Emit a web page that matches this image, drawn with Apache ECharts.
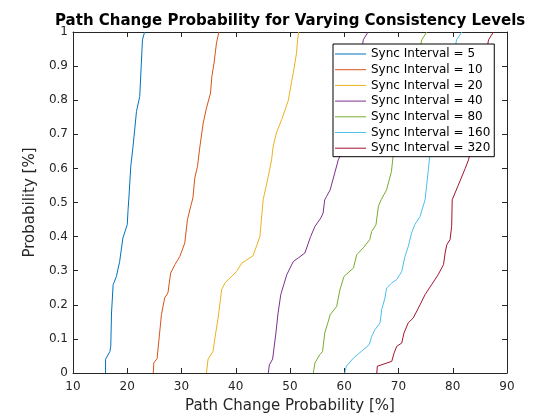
<!DOCTYPE html>
<html>
<head>
<meta charset="utf-8">
<script src="https://cdn.jsdelivr.net/npm/echarts@6/dist/echarts.min.js"></script>
<style>
  html, body { margin: 0; padding: 0; background: #fff; }
  #chart { width: 560px; height: 420px; }
</style>
</head>
<body>
<div id="chart"></div>
<script>
// CDF points [path change %, probability]
const interval5 = [[16.0,0],[16.0,0.04],[16.8,0.063],[16.96,0.078],[17.1,0.176],[17.4,0.259],[18.0,0.283],[18.6,0.327],[19.2,0.396],[20.0,0.435],[20.15,0.479],[20.3,0.513],[20.65,0.606],[21.07,0.665],[21.7,0.767],[22.3,0.811],[22.6,0.909],[22.8,0.977],[23.2,1]];
const interval10 = [[24.8,0],[24.9,0.03],[25.5,0.042],[26.3,0.171],[26.9,0.22],[27.5,0.235],[28.0,0.293],[28.8,0.318],[29.7,0.342],[30.6,0.381],[31.1,0.45],[31.7,0.489],[32.1,0.513],[32.45,0.572],[32.95,0.606],[33.4,0.665],[34.0,0.733],[34.6,0.777],[35.35,0.821],[35.6,0.87],[36.0,0.909],[36.45,0.968],[36.9,1]];
const interval20 = [[34.6,0],[34.9,0.041],[35.8,0.063],[36.3,0.117],[36.75,0.161],[37.4,0.244],[38.0,0.264],[40.15,0.298],[41.1,0.322],[43.2,0.344],[44.45,0.40],[45.05,0.508],[46.0,0.577],[46.6,0.625],[46.9,0.665],[47.5,0.704],[48.45,0.743],[49.1,0.772],[49.7,0.80],[50.3,0.855],[50.7,0.889],[51.2,0.938],[51.4,0.977],[51.6,1]];
const interval40 = [[46.0,0],[46.2,0.024],[46.8,0.041],[47.4,0.117],[47.8,0.176],[48.3,0.23],[49.4,0.288],[50.6,0.327],[51.5,0.337],[52.75,0.352],[53.8,0.40],[54.6,0.43],[55.7,0.455],[56.1,0.469],[56.4,0.508],[56.75,0.518],[57.4,0.537],[58.9,0.625],[59.8,0.655],[60.6,0.7],[61.3,0.75],[61.9,0.8],[62.4,0.85],[62.9,0.9],[63.3,0.95],[63.5,0.977],[64.4,1]];
const interval80 = [[54.3,0],[54.6,0.03],[55.5,0.054],[56.0,0.063],[56.4,0.117],[57.05,0.151],[57.4,0.171],[58.6,0.195],[59.2,0.244],[59.95,0.283],[61.7,0.308],[62.3,0.347],[63.5,0.367],[64.7,0.391],[65.05,0.415],[65.85,0.435],[66.3,0.489],[66.8,0.508],[67.8,0.537],[68.7,0.591],[69.0,0.635],[70.3,0.7],[71.2,0.75],[72.0,0.8],[72.7,0.85],[73.3,0.9],[73.9,0.95],[74.3,0.977],[75.2,1]];
const interval160 = [[60.1,0],[60.4,0.02],[61.7,0.044],[63.5,0.068],[64.6,0.083],[65.05,0.107],[65.66,0.127],[66.6,0.147],[66.9,0.186],[67.5,0.22],[67.8,0.249],[68.75,0.264],[69.67,0.274],[70.6,0.298],[71.2,0.342],[71.8,0.371],[72.4,0.41],[73.0,0.435],[73.97,0.459],[74.9,0.508],[75.5,0.596],[75.8,0.645],[77.0,0.7],[78.0,0.75],[78.8,0.8],[79.5,0.85],[80.0,0.9],[80.4,0.95],[80.7,0.977],[81.7,1]];
const interval320 = [[66.0,0],[66.1,0.02],[68.75,0.034],[69.2,0.059],[69.67,0.078],[70.6,0.088],[71.0,0.117],[71.8,0.147],[72.7,0.161],[73.2,0.176],[73.97,0.20],[74.9,0.23],[76.1,0.259],[77.3,0.288],[78.3,0.318],[78.6,0.352],[78.9,0.376],[79.5,0.391],[79.8,0.43],[79.9,0.508],[81.0,0.55],[82.3,0.6],[82.9,0.625],[83.2,0.645],[84.0,0.7],[84.7,0.75],[85.2,0.8],[85.6,0.85],[86.0,0.9],[86.3,0.95],[86.6,0.977],[87.5,1]];

const seriesNames = ["Sync Interval = 5", "Sync Interval = 10", "Sync Interval = 20", "Sync Interval = 40",
  "Sync Interval = 80", "Sync Interval = 160", "Sync Interval = 320"];
const seriesData = [interval5, interval10, interval20, interval40, interval80, interval160, interval320];
const colors = ["#0072BD", "#D95319", "#EDB120", "#7E2F8E", "#77AC30", "#4DBEEE", "#A2142F"];

const font = "DejaVu Sans";
const axisColor = "#262626";

const chart = echarts.init(document.getElementById("chart"));

// MATLAB style box: ticks inward on all four sides
const boxAxis = (extra) => Object.assign({
  type: "value",
  axisLine: { show: true, onZero: false, lineStyle: { color: axisColor, width: 1 } },
  axisTick: { show: true, inside: true, length: 5, lineStyle: { color: axisColor } },
  splitLine: { show: false },
}, extra);

chart.setOption({
  animation: false,
  color: colors,
  title: {
    text: "Path Change Probability for Varying Consistency Levels",
    left: 50,
    top: 9,
    textStyle: { fontFamily: font, fontSize: 15, fontWeight: "bold", color: "#000" },
  },
  grid: { left: 73, right: 53, top: 32, bottom: 47 },
  legend: {
    orient: "vertical",
    left: 333,
    top: 44,
    icon: "rect",
    itemWidth: 31,
    itemHeight: 1,
    itemGap: 0.7,
    padding: [2.5, 4, 1, 2],
    backgroundColor: "#fff",
    borderColor: "#000",
    borderWidth: 1,
    textStyle: { fontFamily: font, fontSize: 12, color: "#000", lineHeight: 15 },
    data: seriesNames,
  },
  xAxis: [
    boxAxis({
      min: 10, max: 90, interval: 10,
      name: "Path Change Probability [%]",
      nameLocation: "middle",
      nameGap: 26,
      nameTextStyle: { fontFamily: font, fontSize: 15, color: axisColor },
      axisLabel: { fontFamily: font, fontSize: 12, color: axisColor, margin: 8 },
    }),
    boxAxis({ min: 10, max: 90, interval: 10, position: "top", axisLabel: { show: false } }),
  ],
  yAxis: [
    boxAxis({
      min: 0, max: 1, interval: 0.1,
      name: "Probability [%]",
      nameLocation: "middle",
      nameGap: 33,
      nameTextStyle: { fontFamily: font, fontSize: 15, color: axisColor },
      axisLabel: { fontFamily: font, fontSize: 12, color: axisColor, margin: 5 },
    }),
    boxAxis({ min: 0, max: 1, interval: 0.1, position: "right", axisLabel: { show: false } }),
  ],
  series: seriesData.map((d, i) => ({
    name: seriesNames[i],
    type: "line",
    data: d,
    symbol: "none",
    lineStyle: { width: 1, color: colors[i] },
    itemStyle: { color: colors[i] },
    z: 2,
  })),
});
</script>
</body>
</html>
